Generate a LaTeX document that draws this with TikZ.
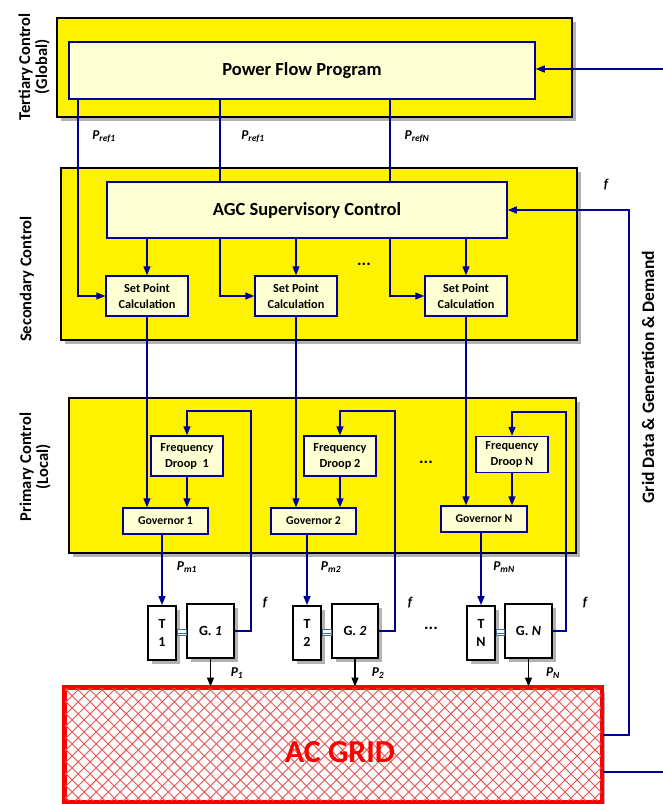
\documentclass[tikz,border=0pt]{standalone}
\usepackage{fontspec}
\setmainfont{Carlito}
\usetikzlibrary{arrows.meta,shadows,patterns.meta,calc}
\definecolor{navy}{RGB}{0,0,150}
\definecolor{ltyel}{RGB}{255,255,212}
\definecolor{hatch}{RGB}{238,80,80}
\definecolor{shaft}{RGB}{70,110,170}
\begin{document}
\begin{tikzpicture}[x=1pt,y=-1pt,
  shd/.style={drop shadow={shadow xshift=4pt,shadow yshift=-4pt,fill=black!30,opacity=1}},
  outer/.style={draw=black,line width=2.4pt,fill=yellow,shd,inner sep=0pt},
  inbox/.style={draw=navy,line width=1.5pt,fill=ltyel,inner sep=0pt,align=center,
     font=\fontsize{18.5}{22}\selectfont\bfseries},
  smbox/.style={draw=navy,line width=1.3pt,fill=ltyel,inner sep=0pt,align=center,
     font=\fontsize{12.3}{16}\selectfont\bfseries},
  govbox/.style={smbox,font=\fontsize{11.8}{14}\selectfont\bfseries},
  machine/.style={draw=black,line width=2pt,fill=white,inner sep=0pt,align=center,
     font=\fontsize{14}{18}\selectfont\bfseries,shd},
  side/.style={rotate=90,align=center,font=\fontsize{16.5}{17}\selectfont\bfseries},
  lbl/.style={font=\fontsize{13.5}{15}\selectfont\bfseries\itshape},
  dots/.style={font=\fontsize{17}{17}\selectfont\bfseries},
  bl/.style={draw=navy,line width=1.4pt},
  arr/.style={bl,-{Triangle[length=9pt,width=7pt]}},
  karr/.style={draw=black,line width=1.4pt,-{Triangle[length=9pt,width=7pt]}}
]
\useasboundingbox (0,0) rectangle (663,804);

% ---------- outer panels ----------
\node[outer,minimum width=515pt,minimum height=99pt] (tert) at (314.5,67.5) {};
\node[outer,minimum width=516pt,minimum height=172pt] (sec) at (319,254) {};
\node[outer,minimum width=507pt,minimum height=155pt] (prim) at (322.5,475.5) {};

% ---------- side labels ----------
\node[side] (lt) at (34,67) {Tertiary Control\\(Global)};
\node[side] (ls) at (27,279) {Secondary Control};
\node[side] (lp) at (35,467) {Primary Control\\(Local)};
\node[side,font=\fontsize{17.5}{18}\selectfont\bfseries] (lg) at (648,377) {Grid Data \& Generation \& Demand};

% ---------- main boxes ----------
\node[inbox,minimum width=466pt,minimum height=57pt] (pfp) at (302,70.5) {Power Flow Program};
\node[inbox,minimum width=400pt,minimum height=56pt] (agc) at (307,210) {AGC Supervisory Control};

\node[smbox,minimum width=82pt,minimum height=40pt] (sp1) at (147,296) {Set Point\\Calculation};
\node[smbox,minimum width=82pt,minimum height=40pt] (sp2) at (296,296) {Set Point\\Calculation};
\node[smbox,minimum width=82pt,minimum height=40pt] (sp3) at (466,296) {Set Point\\Calculation};

\node[smbox,minimum width=72pt,minimum height=40pt] (fd1) at (187,456) {Frequency\\Droop\ \ 1};
\node[smbox,minimum width=72pt,minimum height=40pt] (fd2) at (340,456) {Frequency\\Droop 2};
\node[smbox,minimum width=72pt,minimum height=36pt] (fdn) at (512,454.5) {Frequency\\Droop N};

\node[govbox,minimum width=85pt,minimum height=26pt] (gv1) at (165.5,521) {Governor 1};
\node[govbox,minimum width=85pt,minimum height=26pt] (gv2) at (313.5,521) {Governor 2};
\node[govbox,minimum width=86pt,minimum height=26pt] (gvn) at (484,519) {Governor N};

\node[machine,minimum width=28pt,minimum height=54pt] (t1) at (162,633) {T\\1};
\node[machine,minimum width=47pt,minimum height=54pt] (g1) at (210.5,631) {G. \textit{1}};
\node[machine,minimum width=28pt,minimum height=54pt] (t2) at (307,633) {T\\2};
\node[machine,minimum width=46pt,minimum height=54pt] (g2) at (355,631) {G. \textit{2}};
\node[machine,minimum width=28pt,minimum height=54pt] (tn) at (481,633) {T\\N};
\node[machine,minimum width=47pt,minimum height=54pt] (gn) at (528.5,631) {G. \textit{N}};

% shafts
\foreach \t/\g in {t1/g1,t2/g2,tn/gn}{
  \draw[shaft,line width=0.9pt,fill=white] ($(\t.east)+(0,-4)$) rectangle ($(\g.west)+(0,4)$);
  \draw[shaft,line width=0.9pt] (\t.east) -- (\g.west |- \t.east);
}

% AC grid
\node[draw=red,line width=3pt,fill=white,minimum width=536pt,minimum height=113pt,inner sep=0pt,
  shd,
  postaction={pattern={Lines[angle=45,distance=8.5pt,line width=0.9pt]},pattern color=hatch},
  postaction={pattern={Lines[angle=-45,distance=8.5pt,line width=0.9pt]},pattern color=hatch}]
  (grid) at (333,744.5) {};
\draw[red,line width=3pt] (grid.north west) rectangle (grid.south east);
\node[text=red,font=\fontsize{32}{32}\selectfont\bfseries] (gridtxt) at (340,752) {AC GRID};

% ---------- coordinates ----------
\coordinate (inR) at (663,69);
\coordinate (r1) at (78,0);
\coordinate (r2) at (220,0);
\coordinate (r3) at (390,0);
\coordinate (gd) at (629,735);
\coordinate (gout) at (663,772);
\coordinate (c1) at (251,411);
\coordinate (c2) at (395,411);
\coordinate (cn) at (566,412);

% ---------- connectors ----------
\draw[arr] (inR) -- (inR -| pfp.east);
\draw[arr] (pfp.south -| r1) |- (sp1.west);
\draw[bl] (pfp.south -| r2) -- (agc.north -| r2);
\draw[arr] (agc.south -| r2) |- (sp2.west);
\draw[bl] (pfp.south -| r3) -- (agc.north -| r3);
\draw[arr] (agc.south -| r3) |- (sp3.west);

\draw[arr] (agc.south -| sp1.north) -- (sp1.north);
\draw[arr] (agc.south -| sp2.north) -- (sp2.north);
\draw[arr] (agc.south -| sp3.north) -- (sp3.north);

\draw[arr] (sp1.south) -- (sp1.south |- gv1.north);
\draw[arr] (sp2.south) -- (sp2.south |- gv2.north);
\draw[arr] (sp3.south) -- (sp3.south |- gvn.north);

\draw[arr] (fd1.south) -- (fd1.south |- gv1.north);
\draw[arr] (fd2.south) -- (fd2.south |- gv2.north);
\draw[arr] (fdn.south) -- (fdn.south |- gvn.north);

\draw[arr] (gv1.south -| t1.north) -- (t1.north);
\draw[arr] (gv2.south -| t2.north) -- (t2.north);
\draw[arr] (gvn.south -| tn.north) -- (tn.north);

\draw[arr] (g1.east) -| (c1) -| (fd1.north);
\draw[arr] (g2.east) -| (c2) -| (fd2.north);
\draw[arr] (gn.east) -| (cn) -| (fdn.north);

\draw[karr] (g1.south) -- (g1.south |- grid.north);
\draw[karr] (g2.south) -- (g2.south |- grid.north);
\draw[karr] (gn.south) -- (gn.south |- grid.north);

\draw[arr] (grid.east |- gd) -- (gd) |- (agc.east);
\draw[bl] (grid.east |- gout) -- (gout);

% ---------- labels ----------
\node[lbl] (l1) at (104,137) {P\textsubscript{ref1}};
\node[lbl] (l2) at (253,137) {P\textsubscript{ref1}};
\node[lbl] (l3) at (417,137) {P\textsubscript{refN}};
\node[lbl] (f0) at (606,185) {f};
\node[lbl] (m1) at (187,567) {P\textsubscript{m1}};
\node[lbl] (m2) at (331,567) {P\textsubscript{m2}};
\node[lbl] (mn) at (504,567) {P\textsubscript{mN}};
\node[lbl] (f1) at (265,603) {f};
\node[lbl] (f2) at (410,603) {f};
\node[lbl] (fn) at (585,603) {f};
\node[lbl] (p1) at (237,673) {P\textsubscript{1}};
\node[lbl] (p2) at (378,673) {P\textsubscript{2}};
\node[lbl] (pn) at (553,673) {P\textsubscript{N}};
\node[dots] (d1) at (364,264) {...};
\node[dots] (d2) at (426,462) {...};
\node[dots] (d3) at (431,628) {...};
\end{tikzpicture}
\end{document}
